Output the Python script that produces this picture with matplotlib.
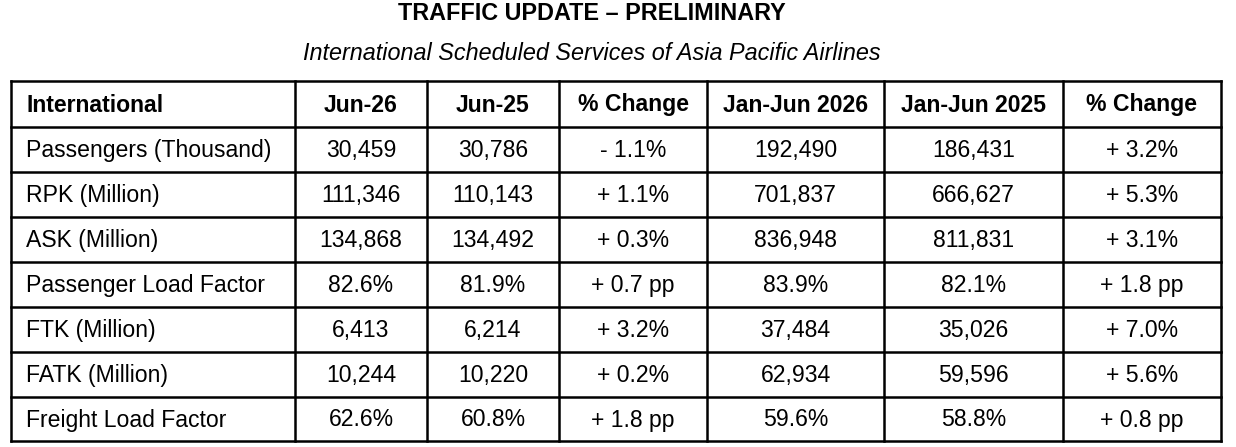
import matplotlib
matplotlib.use("Agg")
import matplotlib.pyplot as plt

plt.rcParams['font.family'] = ['Liberation Sans', 'DejaVu Sans']

title = "TRAFFIC UPDATE \u2013 PRELIMINARY"
subtitle = "International Scheduled Services of Asia Pacific Airlines"
headers = ["International", "Jun-26", "Jun-25", "% Change", "Jan-Jun 2026", "Jan-Jun 2025", "% Change"]
metrics = ["Passengers (Thousand)", "RPK (Million)", "ASK (Million)", "Passenger Load Factor",
           "FTK (Million)", "FATK (Million)", "Freight Load Factor"]
jun26 = ["30,459", "111,346", "134,868", "82.6%", "6,413", "10,244", "62.6%"]
jun25 = ["30,786", "110,143", "134,492", "81.9%", "6,214", "10,220", "60.8%"]
chg_month = ["- 1.1%", "+ 1.1%", "+ 0.3%", "+ 0.7 pp", "+ 3.2%", "+ 0.2%", "+ 1.8 pp"]
ytd26 = ["192,490", "701,837", "836,948", "83.9%", "37,484", "62,934", "59.6%"]
ytd25 = ["186,431", "666,627", "811,831", "82.1%", "35,026", "59,596", "58.8%"]
chg_ytd = ["+ 3.2%", "+ 5.3%", "+ 3.1%", "+ 1.8 pp", "+ 7.0%", "+ 5.6%", "+ 0.8 pp"]

W, H = 1236, 447
col_x = [11, 295, 427, 559, 707, 884, 1063, 1221]
row_y = [81, 127, 172, 217, 262, 307, 352, 397, 441]

fig = plt.figure(figsize=(W / 100, H / 100), dpi=100)
ax = fig.add_axes([0, 0, 1, 1])
ax.set_xlim(0, W)
ax.set_ylim(H, 0)
ax.axis('off')

ax.text(592, 14, title, ha='center', va='center', fontsize=16.8, fontweight='bold')
ax.text(592, 53, subtitle, ha='center', va='center', fontsize=16.8, style='italic')

# grid lines
lw = 1.8
for x in col_x:
    ax.plot([x, x], [row_y[0], row_y[-1]], color='black', lw=lw, solid_capstyle='projecting')
for y in row_y:
    ax.plot([col_x[0], col_x[-1]], [y, y], color='black', lw=lw, solid_capstyle='projecting')

fs = 16.6
# header
for j, h in enumerate(headers):
    yc = (row_y[0] + row_y[1]) / 2 + 1
    if j == 0:
        ax.text(col_x[0] + 15, yc, h, ha='left', va='center', fontsize=fs, fontweight='bold')
    else:
        ax.text((col_x[j] + col_x[j + 1]) / 2, yc, h, ha='center', va='center',
                fontsize=fs, fontweight='bold')

columns = [jun26, jun25, chg_month, ytd26, ytd25, chg_ytd]
for i, m in enumerate(metrics):
    yc = (row_y[i + 1] + row_y[i + 2]) / 2 + 1
    ax.text(col_x[0] + 15, yc, m, ha='left', va='center', fontsize=fs)
    for j, col in enumerate(columns):
        ax.text((col_x[j + 1] + col_x[j + 2]) / 2, yc, col[i], ha='center', va='center', fontsize=fs)

fig.savefig("out.png", dpi=100)
